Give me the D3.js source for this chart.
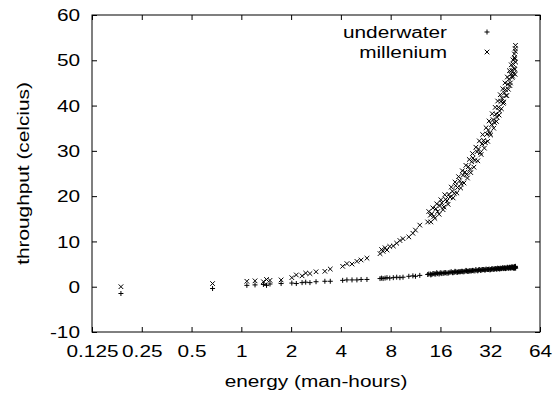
<!DOCTYPE html>
<html>
<head>
<meta charset="utf-8">
<script src="https://cdn.jsdelivr.net/npm/d3@7"></script>
<style>
  body { margin: 0; background: #fff; }
  svg { font-family: "Liberation Sans", Arial, sans-serif; }
</style>
</head>
<body>
<div id="chart"></div>
<script>
// energy (man-hours), shared by both series
const energy = [0.187, 0.67, 1.08, 1.21, 1.36, 1.42, 1.49, 1.74, 2.02, 2.15, 2.33, 2.45, 2.6, 2.83, 3.2, 3.45,
  4.1, 4.35, 4.67, 5.0, 5.3, 5.75, 6.9, 7.05, 7.2, 7.4, 7.6, 7.9, 8.3, 8.7, 9.1, 9.5, 10.3, 10.9, 11.3, 12.0,
  13.4, 13.9, 14.2, 14.6, 15.0, 15.4, 15.9, 16.3, 16.8, 17.2, 17.5, 18.0, 18.3, 18.9, 19.4, 19.8, 20.3, 20.9,
  21.4, 21.9, 22.5, 23.0, 23.6, 24.1, 24.7, 25.2, 25.9, 26.6, 27.2, 27.9, 28.5, 29.2, 29.9, 30.6, 31.2, 31.9,
  32.6, 33.3, 34.0, 34.6, 35.2, 35.9, 36.5, 37.1, 37.8, 38.4, 39.0, 39.6, 40.3, 40.9, 41.5, 42.1, 42.6, 43.2,
  43.7, 44.2, 44.6, 45.0, 45.3, 45.6,
  13.6, 14.0, 14.4, 14.8, 15.2, 15.7, 16.1, 16.6, 17.0, 17.8, 18.6, 19.1, 19.6, 20.1, 20.6, 21.2, 21.7, 22.2,
  22.8, 23.3, 23.9, 24.4, 25.0, 25.5, 26.2, 26.9, 27.5, 28.2, 28.8, 29.5, 30.2, 30.9, 31.5, 32.2, 32.9, 33.6,
  34.3, 34.9, 35.5, 36.2, 36.8, 37.4, 38.1, 38.7, 39.3, 39.9, 40.6, 41.2, 41.8, 42.4, 42.9, 43.5, 43.9, 44.4,
  44.8, 45.1, 45.4, 45.5, 44.9, 45.2]

// throughput - underwater (+)
const underwater = [-1.5, -0.4, 0.3, 0.4, 0.5, 0.3, 0.6, 0.7, 0.8, 0.7, 0.9, 1.0, 0.9, 1.1, 1.2, 1.2,
  1.4, 1.5, 1.5, 1.5, 1.6, 1.6, 1.8, 1.9, 1.8, 1.9, 2.0, 1.9, 2.0, 2.1, 2.0, 2.1, 2.3, 2.4, 2.3, 2.5,
  2.7, 2.8, 2.7, 2.9, 2.8, 2.9, 3.0, 2.9, 3.0, 3.1, 3.0, 3.1, 3.2, 3.1, 3.2, 3.3, 3.2, 3.3,
  3.4, 3.3, 3.4, 3.5, 3.4, 3.5, 3.5, 3.6, 3.5, 3.6, 3.7, 3.6, 3.7, 3.8, 3.7, 3.8, 3.8, 3.7,
  3.9, 3.8, 3.9, 4.0, 3.9, 4.0, 3.9, 4.0, 4.1, 4.0, 4.1, 4.0, 4.1, 4.2, 4.1, 4.2, 4.1, 4.2,
  4.3, 4.1, 4.2, 4.3, 4.2, 4.1,
  2.8, 2.6, 2.9, 2.8, 3.1, 2.8, 3.1, 3.0, 3.1, 3.0, 3.3, 3.1, 3.4, 3.2, 3.3, 3.3, 3.4, 3.3,
  3.6, 3.4, 3.5, 3.5, 3.6, 3.5, 3.8, 3.5, 3.8, 3.7, 3.8, 3.7, 3.9, 3.8, 3.9, 3.8, 4.0, 3.9,
  4.0, 3.9, 4.1, 4.0, 4.1, 4.0, 4.2, 4.1, 4.2, 4.1, 4.3, 4.1, 4.3, 4.2, 4.4, 4.2, 4.4, 4.2,
  4.4, 4.3, 4.5, 4.3, 4.1, 4.4]

// throughput - millenium (x)
const millenium = [0.0, 0.7, 1.2, 1.3, 1.1, 1.6, 1.4, 1.5, 2.0, 2.6, 2.4, 3.0, 2.9, 3.3, 3.4, 3.9,
  4.5, 5.1, 5.0, 5.6, 5.9, 6.3, 7.3, 8.2, 7.8, 8.6, 8.1, 8.9, 9.0, 9.6, 10.2, 10.6, 11.0, 11.8, 12.5, 13.6,
  14.3, 15.8, 16.1, 15.5, 17.2, 16.6, 17.9, 18.5, 17.6, 19.3, 18.9, 20.4, 19.8, 21.1, 20.6, 22.3, 21.9, 23.4,
  22.7, 24.6, 25.3, 24.8, 26.5, 25.9, 27.6, 28.4, 27.9, 29.8, 30.4, 29.6, 31.5, 32.3, 31.8, 33.7, 34.6, 33.9,
  35.8, 36.9, 36.2, 38.1, 37.4, 39.6, 38.8, 40.9, 41.6, 40.5, 42.8, 43.5, 42.2, 44.7, 45.8, 44.4, 46.9, 47.8,
  46.5, 49.1, 48.2, 50.3, 52.6, 49.6,
  16.6, 14.3, 17.4, 15.1, 18.3, 16.0, 19.2, 17.0, 20.3, 18.2, 22.0, 19.6, 23.1, 20.7, 24.3, 21.8, 25.6, 22.9,
  26.8, 24.0, 28.1, 25.2, 29.4, 26.4, 30.8, 27.8, 32.2, 29.2, 33.6, 30.6, 35.1, 32.1, 36.6, 33.5, 38.2, 35.0,
  39.6, 36.5, 41.0, 37.9, 42.4, 39.3, 43.7, 40.8, 45.0, 42.2, 46.3, 43.6, 47.7, 45.0, 49.0, 46.2, 50.1, 47.1,
  51.4, 48.0, 52.0, 53.3, 50.6, 46.9]

const xTicks = [0.125, 0.25, 0.5, 1, 2, 4, 8, 16, 32, 64]
const xTickLabels = ['0.125', '0.25', '0.5', '1', '2', '4', '8', '16', '32', '64']
const yTicks = [-10, 0, 10, 20, 30, 40, 50, 60]
const seriesNames = ['underwater', 'millenium']

const width = 555, height = 397
const margin = { top: 15, right: 15, bottom: 65, left: 92 }
const innerW = width - margin.left - margin.right
const innerH = height - margin.top - margin.bottom
const tickLen = 5
const stretch = 1.3 // the reference font is wider than it is tall

const x = d3.scaleLog().base(2).domain([0.125, 64]).range([0, innerW])
const y = d3.scaleLinear().domain([-10, 60]).range([innerH, 0])

const svg = d3.select('#chart').append('svg')
  .attr('width', width)
  .attr('height', height)
  .style('font-size', '16px')

const g = svg.append('g').attr('transform', `translate(${margin.left},${margin.top})`)

// ticks (inward, mirrored)
const axB = g.append('g').attr('transform', `translate(0,${innerH})`)
  .call(d3.axisBottom(x).tickValues(xTicks).tickSizeInner(-tickLen).tickSizeOuter(0)
    .tickFormat((d, i) => xTickLabels[i]))
axB.selectAll('text').attr('y', 25).attr('dy', 0)
const axT = g.append('g')
  .call(d3.axisTop(x).tickValues(xTicks).tickSizeInner(-tickLen).tickSizeOuter(0).tickFormat(''))
const axL = g.append('g')
  .call(d3.axisLeft(y).tickValues(yTicks).tickSizeInner(-tickLen).tickSizeOuter(0)
    .tickFormat(d => String(d)))
axL.selectAll('text').attr('x', -12).attr('dy', '0.35em')
const axR = g.append('g').attr('transform', `translate(${innerW},0)`)
  .call(d3.axisRight(y).tickValues(yTicks).tickSizeInner(-tickLen).tickSizeOuter(0).tickFormat(''))

for (const ax of [axB, axT, axL, axR]) {
  ax.select('.domain').remove()
  ax.attr('font-size', null).attr('font-family', null)
  ax.selectAll('line').attr('stroke', '#000')
  ax.selectAll('text').attr('fill', '#000')
}

g.append('rect')
  .attr('width', innerW).attr('height', innerH)
  .attr('fill', 'none').attr('stroke', '#000').attr('stroke-width', 1)

// markers
const plus = (cx, cy, s) => `M${cx - s},${cy}H${cx + s}M${cx},${cy - s}V${cy + s}`
const cross = (cx, cy, s) => `M${cx - s},${cy - s}L${cx + s},${cy + s}M${cx - s},${cy + s}L${cx + s},${cy - s}`

g.append('path')
  .attr('d', energy.map((e, i) => plus(x(e), y(underwater[i]), 2.5)).join(''))
  .attr('stroke', '#000').attr('stroke-width', 1).attr('fill', 'none')

g.append('path')
  .attr('d', energy.map((e, i) => cross(x(e), y(millenium[i]), 2.3)).join(''))
  .attr('stroke', '#000').attr('stroke-width', 1).attr('fill', 'none')

// legend
const legend = g.append('g')
seriesNames.forEach((name, i) => {
  const ly = 17 + i * 20
  legend.append('text')
    .attr('x', 355).attr('y', ly).attr('dy', '0.35em')
    .attr('text-anchor', 'end')
    .text(name)
  legend.append('path')
    .attr('d', i === 0 ? plus(395, ly, 2.5) : cross(395, ly, 2.3))
    .attr('stroke', '#000').attr('fill', 'none')
})

// axis titles
svg.append('text')
  .attr('x', margin.left + innerW / 2).attr('y', 387)
  .attr('text-anchor', 'middle')
  .text('energy (man-hours)')

svg.append('text')
  .attr('transform', `translate(29,${margin.top + innerH / 2}) rotate(-90)`)
  .attr('text-anchor', 'middle')
  .text('throughput (celcius)')

// widen every label
svg.selectAll('text').each(function () {
  const w = this.getComputedTextLength()
  if (w > 0) {
    d3.select(this).attr('textLength', w * stretch).attr('lengthAdjust', 'spacingAndGlyphs')
  }
})
</script>
</body>
</html>
